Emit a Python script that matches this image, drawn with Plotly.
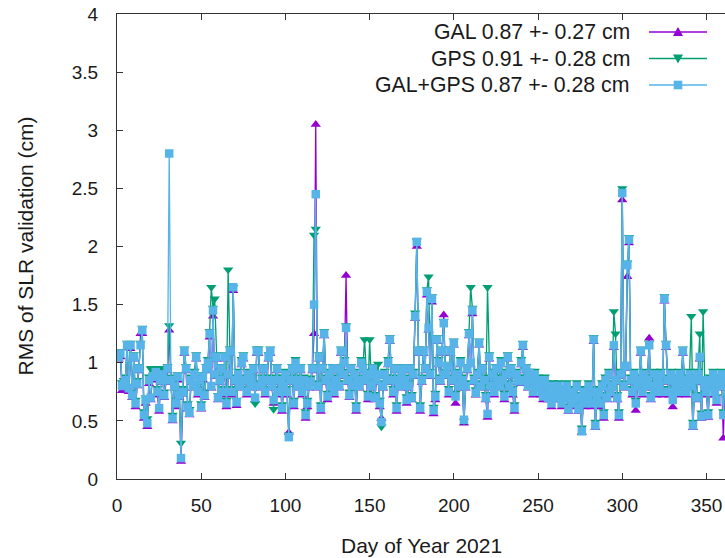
import plotly.graph_objects as go

days = list(range(1, 363))

gal = [
1.03,1.05,0.76,0.80,0.83,1.13,0.75,1.12,0.70,1.03,
0.62,0.80,0.93,1.25,1.25,0.52,0.65,0.45,0.82,0.68,
0.86,0.85,0.90,0.72,0.58,0.83,0.88,0.70,0.83,0.93,
1.28,0.83,0.50,0.78,0.62,0.85,0.70,0.15,0.73,1.08,
0.93,0.60,0.55,0.83,0.78,0.88,1.03,0.72,0.83,0.60,
0.85,0.70,0.93,0.98,1.22,0.78,1.40,0.88,1.03,0.68,
0.83,0.93,0.72,1.03,0.62,0.88,1.08,0.72,1.62,0.83,
0.63,0.88,0.78,0.98,1.03,0.83,0.72,0.88,0.83,0.78,
0.93,0.68,1.08,1.08,0.78,0.83,0.93,0.72,0.83,1.03,
1.08,0.78,0.65,0.83,0.93,0.72,0.83,0.58,0.78,0.88,
0.72,0.40,0.83,0.93,0.62,0.98,0.83,0.78,0.93,0.72,
0.83,0.52,0.62,0.78,0.82,0.93,1.25,3.05,0.78,1.03,
0.58,0.93,1.23,0.83,0.68,0.88,0.78,0.93,0.72,0.83,
0.93,0.78,1.08,0.88,0.98,1.75,0.83,0.70,0.93,0.78,
0.88,0.58,0.83,0.78,0.98,0.93,0.83,0.88,0.68,0.88,
0.78,0.93,0.68,0.83,0.88,0.62,0.52,0.78,0.88,0.83,
0.98,1.18,0.83,0.72,0.93,0.58,0.83,0.78,0.88,0.93,
0.83,0.65,0.78,0.93,0.68,0.88,1.38,2.00,1.08,0.58,
0.83,1.08,0.93,1.58,1.28,0.88,1.52,0.56,0.68,1.18,
0.98,0.83,1.08,1.41,0.88,0.95,0.72,1.08,0.83,1.15,
0.65,0.88,0.78,0.98,0.83,0.48,0.78,0.93,1.23,0.98,
1.42,0.83,0.72,0.88,1.15,0.78,0.93,0.83,0.68,0.53,
1.03,0.78,0.88,0.72,0.93,0.83,0.78,0.98,0.83,0.68,
0.88,1.03,0.78,0.93,0.72,0.58,0.88,0.83,0.82,0.98,
1.13,0.83,0.93,0.78,0.89,0.83,0.72,0.88,0.78,0.83,
0.78,0.72,0.68,0.83,0.78,0.68,0.72,0.62,0.78,0.68,
0.72,0.78,0.68,0.62,0.72,0.68,0.78,0.58,0.68,0.72,
0.62,0.68,0.78,0.58,0.68,0.40,0.72,0.62,0.68,0.78,
0.72,0.62,1.18,0.44,0.68,0.72,0.62,0.78,0.52,0.83,
0.68,0.88,0.72,0.78,1.13,0.83,0.68,0.52,0.88,2.40,
0.78,0.95,1.74,2.03,0.83,0.72,0.88,0.59,0.78,0.83,
1.08,0.72,0.88,0.78,0.83,1.21,0.68,0.78,0.88,0.72,
0.83,0.78,0.88,0.72,1.53,1.13,0.83,0.72,0.88,0.62,
0.83,0.78,0.72,0.88,0.83,1.08,0.78,0.72,0.83,0.88,
0.78,0.44,0.83,0.68,0.88,1.03,0.52,0.83,0.78,0.72,
0.53,0.83,0.78,0.88,0.72,0.65,0.83,0.78,0.88,0.35,
0.83,0.78]

gps = [
1.07,1.10,0.83,0.85,0.88,1.17,0.80,1.17,0.75,1.07,
0.68,0.85,0.97,1.17,1.30,0.58,0.70,0.52,0.88,0.95,
0.95,0.95,0.95,0.78,0.95,0.95,0.93,0.75,0.95,0.97,
1.32,0.88,0.55,0.83,0.68,0.90,0.75,0.31,0.78,1.12,
0.97,0.65,0.60,0.88,0.82,0.93,1.07,0.78,0.88,0.65,
0.90,0.75,0.97,1.03,1.27,1.65,1.47,1.55,1.07,0.72,
0.88,0.97,0.78,1.07,0.68,1.80,1.12,0.78,1.65,0.88,
0.68,0.93,0.82,1.03,1.07,0.88,0.78,0.93,0.88,0.82,
0.97,0.65,1.12,1.12,0.83,0.88,0.97,0.78,0.88,1.07,
1.12,0.83,0.60,0.88,0.97,0.78,0.88,0.64,0.83,0.93,
0.78,0.38,0.88,0.97,0.68,1.03,0.88,0.83,0.97,0.78,
0.88,0.58,0.68,0.83,0.87,0.97,2.10,2.15,0.83,1.07,
0.64,0.97,1.27,0.88,0.74,0.93,0.83,0.97,0.78,0.88,
0.97,0.83,1.12,0.93,1.03,1.32,0.88,0.75,0.97,0.83,
0.93,0.64,0.88,0.83,1.03,0.97,1.20,0.93,0.74,1.20,
0.83,0.97,0.73,0.88,0.99,0.68,0.45,0.83,0.93,0.88,
1.03,1.22,0.88,0.78,0.97,0.64,0.88,0.83,0.93,0.97,
0.88,0.71,0.83,0.97,0.73,0.93,1.43,2.05,1.12,0.64,
0.88,1.12,0.97,1.63,1.74,0.93,1.57,0.62,0.74,1.22,
1.03,0.88,1.12,1.36,0.93,0.99,0.78,1.12,0.88,1.19,
0.74,0.93,0.83,1.03,0.88,0.50,0.83,0.97,1.27,1.65,
1.47,0.88,0.77,0.93,1.19,0.83,0.97,0.88,0.73,1.65,
1.07,0.83,0.93,0.78,0.97,0.88,0.83,1.03,0.88,0.74,
0.93,1.07,0.83,0.97,0.78,0.64,0.93,0.88,0.87,1.03,
1.17,0.88,0.97,0.83,0.93,0.88,0.78,0.93,0.83,0.88,
0.83,0.78,0.74,0.88,0.83,0.73,0.78,0.68,0.83,0.73,
0.78,0.83,0.73,0.68,0.78,0.73,0.83,0.63,0.73,0.78,
0.68,0.73,0.83,0.63,0.73,0.44,0.78,0.68,0.73,0.83,
0.78,0.68,1.22,0.49,0.73,0.78,0.68,0.83,0.58,0.88,
0.73,0.93,0.78,0.83,1.44,1.25,0.73,0.58,0.93,2.50,
0.83,0.99,1.86,2.08,0.88,0.78,0.93,0.68,0.83,0.88,
1.12,0.78,0.93,0.83,0.88,1.17,0.73,0.83,0.93,0.78,
0.88,0.83,0.93,0.78,1.57,1.17,0.88,0.78,0.93,0.71,
0.88,0.83,0.78,0.93,0.88,1.12,0.83,0.78,0.88,0.93,
1.40,0.49,0.88,0.73,0.93,1.25,0.57,1.44,0.83,0.78,
0.58,0.88,0.83,0.93,0.78,0.71,0.88,0.83,0.93,0.58,
0.88,0.83]

galgps = [
1.05,1.08,0.80,0.82,0.85,1.15,0.78,1.15,0.72,1.05,
0.65,0.82,0.95,1.15,1.28,0.55,0.68,0.48,0.85,0.70,
0.88,0.88,0.92,0.75,0.61,0.85,0.90,0.72,0.85,0.95,
2.80,0.85,0.52,0.80,0.65,0.88,0.72,0.18,0.75,1.10,
0.95,0.62,0.57,0.85,0.80,0.90,1.05,0.75,0.85,0.62,
0.88,0.72,0.95,1.00,1.25,0.80,1.45,0.90,1.05,0.70,
0.85,0.95,0.75,1.05,0.65,0.90,1.10,0.75,1.65,0.85,
0.66,0.90,0.80,1.00,1.05,0.85,0.75,0.90,0.85,0.80,
0.95,0.70,1.10,1.10,0.80,0.85,0.95,0.75,0.85,1.05,
1.10,0.80,0.68,0.85,0.95,0.75,0.85,0.61,0.80,0.90,
0.75,0.36,0.85,0.95,0.65,1.00,0.85,0.80,0.95,0.75,
0.85,0.55,0.65,0.80,0.84,0.95,1.50,2.45,0.80,1.05,
0.61,0.95,1.25,0.85,0.71,0.90,0.80,0.95,0.75,0.85,
0.95,0.80,1.10,0.90,1.00,1.30,0.85,0.72,0.95,0.80,
0.90,0.61,0.85,0.80,1.00,0.95,0.85,0.90,0.71,0.90,
0.80,0.95,0.70,0.85,0.90,0.65,0.49,0.80,0.90,0.85,
1.00,1.20,0.85,0.75,0.95,0.61,0.85,0.80,0.90,0.95,
0.85,0.68,0.80,0.95,0.70,0.90,1.40,2.04,1.10,0.61,
0.85,1.10,0.95,1.61,1.30,0.90,1.55,0.59,0.71,1.20,
1.00,0.85,1.10,1.34,0.90,0.97,0.75,1.10,0.85,1.17,
0.71,0.90,0.80,1.00,0.85,0.51,0.80,0.95,1.25,1.00,
1.45,0.85,0.74,0.90,1.17,0.80,0.95,0.85,0.70,0.56,
1.05,0.80,0.90,0.75,0.95,0.85,0.80,1.00,0.85,0.71,
0.90,1.05,0.80,0.95,0.75,0.61,0.90,0.85,0.84,1.00,
1.15,0.85,0.95,0.80,0.91,0.85,0.75,0.90,0.80,0.85,
0.80,0.75,0.71,0.85,0.80,0.70,0.75,0.65,0.80,0.70,
0.75,0.80,0.70,0.65,0.75,0.70,0.80,0.60,0.70,0.75,
0.65,0.70,0.80,0.60,0.70,0.41,0.75,0.65,0.70,0.80,
0.75,0.65,1.20,0.46,0.70,0.75,0.65,0.80,0.55,0.85,
0.70,0.90,0.75,0.80,1.15,0.85,0.70,0.55,0.90,2.46,
0.80,0.97,1.84,2.06,0.85,0.75,0.90,0.65,0.80,0.85,
1.10,0.75,0.90,0.80,0.85,1.15,0.70,0.80,0.90,0.75,
0.85,0.80,0.90,0.75,1.55,1.15,0.85,0.75,0.90,0.68,
0.85,0.80,0.75,0.90,0.85,1.10,0.80,0.75,0.85,0.90,
0.80,0.46,0.85,0.70,0.90,1.05,0.54,0.85,0.80,0.75,
0.55,0.85,0.80,0.90,0.75,0.68,0.85,0.80,0.90,0.55,
0.85,0.80]

series_names = ["GAL 0.87 +- 0.27 cm", "GPS 0.91 +- 0.28 cm", "GAL+GPS 0.87 +- 0.28 cm"]
colors = ["#9400D3", "#009E73", "#56B4E9"]
symbols = ["triangle-up", "triangle-down", "square"]
msizes = [9, 9, 8.5]
xticks = [0, 50, 100, 150, 200, 250, 300, 350]
yticks = [0, 0.5, 1, 1.5, 2, 2.5, 3, 3.5, 4]

FONT = "Liberation Sans, Arial, sans-serif"
TXT = "#1a1a1a"
fig = go.Figure()
for vals, name, col, sym, ms in zip([gal, gps, galgps], series_names, colors, symbols, msizes):
    fig.add_trace(go.Scatter(
        x=days, y=vals, name=name, mode="lines+markers",
        line=dict(color=col, width=1.3),
        marker=dict(symbol=sym, size=ms, color=col, line=dict(width=0)),
        showlegend=False))

L, T, B = 117, 14, 79
W, H = 725, 558
pw, ph = W - L, H - T - B

def px(x):
    return (x - L) / pw

def py(y):
    return (H - B - y) / ph

annotations = []
shapes = []
rows = [32, 58.5, 85]
for i, (name, col, sym) in enumerate(zip(series_names, colors, symbols)):
    yy = py(rows[i])
    annotations.append(dict(x=px(632), y=yy, xref="paper", yref="paper", text=name,
                            showarrow=False, xanchor="right", yanchor="middle",
                            font=dict(size=21.3, color=TXT, family=FONT)))
    shapes.append(dict(type="line", xref="paper", yref="paper", x0=px(649), x1=px(707),
                       y0=yy, y1=yy, line=dict(color=col, width=1.5)))
    cx = px(678)
    w = 5 / pw
    h = 4 / ph
    if sym == "triangle-up":
        path = f"M{cx-w},{yy-h} L{cx+w},{yy-h} L{cx},{yy+h+1/ph} Z"
        shapes.append(dict(type="path", xref="paper", yref="paper", path=path,
                           fillcolor=col, line=dict(width=0)))
    elif sym == "triangle-down":
        path = f"M{cx-w},{yy+h} L{cx+w},{yy+h} L{cx},{yy-h-1/ph} Z"
        shapes.append(dict(type="path", xref="paper", yref="paper", path=path,
                           fillcolor=col, line=dict(width=0)))
    else:
        s = 4.3
        shapes.append(dict(type="rect", xref="paper", yref="paper",
                           x0=cx - s / pw, x1=cx + s / pw, y0=yy - s / ph, y1=yy + s / ph,
                           fillcolor=col, line=dict(width=0)))

annotations.append(dict(x=0.5, y=py(545), xref="paper", yref="paper", text="Day of Year 2021",
                        showarrow=False, xanchor="center", yanchor="middle",
                        font=dict(size=21, color=TXT, family=FONT)))
annotations.append(dict(x=px(25), y=py(246.5), xref="paper", yref="paper",
                        text="RMS of SLR validation (cm)", textangle=-90,
                        showarrow=False, xanchor="center", yanchor="middle",
                        font=dict(size=21, color=TXT, family=FONT)))

fig.update_layout(
    width=W, height=H,
    margin=dict(l=L, r=0, t=T, b=B, pad=0),
    paper_bgcolor="white", plot_bgcolor="white",
    font=dict(family=FONT, size=19, color=TXT),
    annotations=annotations, shapes=shapes,
    xaxis=dict(range=[0, 361], tickvals=xticks, ticks="inside", ticklen=6, tickcolor="#333",
               showline=True, linecolor="#333", linewidth=1.3, mirror="ticks",
               showgrid=False, zeroline=False, ticklabelstandoff=9),
    yaxis=dict(range=[0, 4], tickvals=yticks, ticks="inside", ticklen=6, tickcolor="#333",
               showline=True, linecolor="#333", linewidth=1.3, mirror=False,
               showgrid=False, zeroline=False, ticklabelstandoff=14),
)

fig.write_html("out.html", config={"displayModeBar": False},
               post_script="document.body.style.margin='0px';document.body.style.overflow='hidden';")
